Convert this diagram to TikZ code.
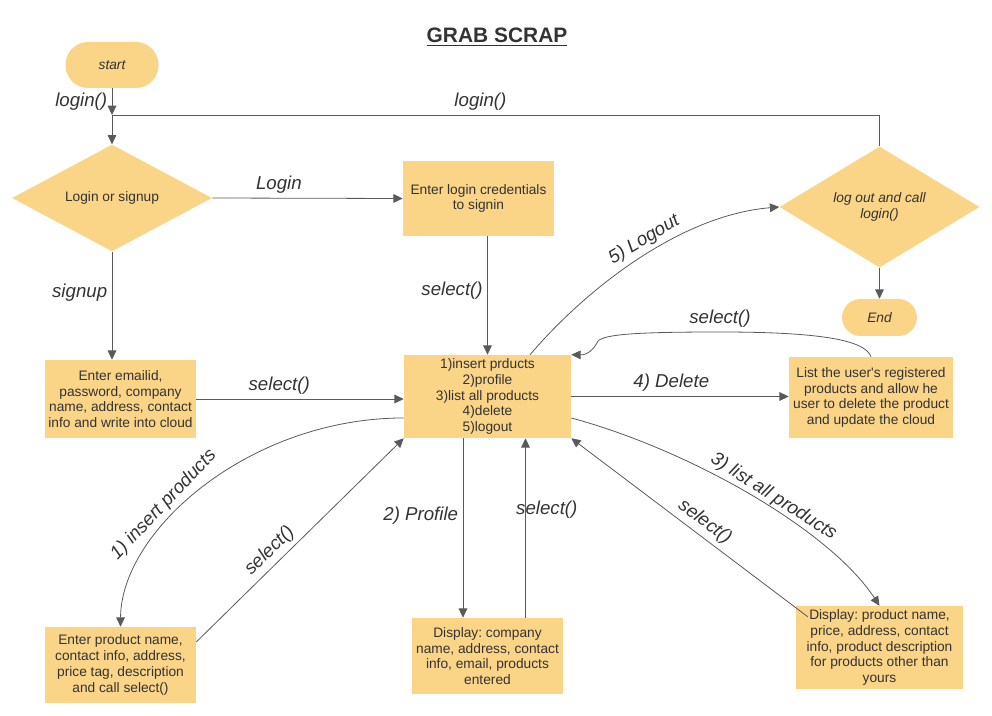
\documentclass[tikz,border=0pt]{standalone}
\usepackage{fontspec}
\setmainfont{Liberation Sans}
\usepackage{tikz}
\usetikzlibrary{shapes.geometric, arrows.meta, positioning}
\usepackage{xcolor}
\definecolor{scrapFill}{RGB}{250,212,135}
\definecolor{inkGray}{RGB}{51,51,51}
\definecolor{wireGray}{RGB}{90,90,90}
\frenchspacing

\begin{document}
\begin{tikzpicture}[
  x=0.75pt, y=0.75pt,
  box/.style={
    rectangle, fill=scrapFill, text=inkGray, align=center,
    inner sep=1pt, font=\fontsize{10.3}{11.8}\selectfont
  },
  pill/.style={box, rounded corners=#1,
    font=\fontsize{10.3}{11.8}\selectfont\itshape},
  choice/.style={
    diamond, fill=scrapFill, text=inkGray, align=center,
    minimum width=150pt, minimum height=75pt, inner sep=0pt,
    font=\fontsize{10.3}{11.8}\selectfont
  },
  arr/.style={-{Triangle[length=7pt,width=6.5pt]}, line width=0.6pt, wireGray},
  lbl/.style={font=\fontsize{14}{16}\selectfont\itshape, text=inkGray}
]
  \useasboundingbox (0,0) rectangle (992,715);

  \node[font=\fontsize{15.7}{18}\selectfont\bfseries, text=inkGray] (title)
    at (497,678) {\underline{GRAB SCRAP}};

  \node[pill=17pt, minimum width=69.75pt, minimum height=34.5pt] (start)
    at (112,650) {start};
  \node[choice] (dia1) at (112,517) {Login or signup};
  \node[box, minimum width=113.25pt, minimum height=56.25pt] (cred)
    at (478.5,516.5) {Enter login credentials\\to signin};
  \node[box, minimum width=113.25pt, minimum height=58.5pt] (sgn)
    at (120.5,316) {Enter emailid,\\password, company\\name, address, contact\\info and write into cloud};
  \node[box, minimum width=125.25pt, minimum height=62.25pt] (menu)
    at (487.5,318.5) {1)insert prducts\\2)profile\\3)list all products\\4)delete\\5)logout};
  \node[box, minimum width=123pt, minimum height=60.75pt] (del)
    at (871,317.5) {List the user\textquotesingle s registered\\products and allow he\\user to delete the product\\and update the cloud};
  \node[choice, font=\fontsize{10.3}{11.8}\selectfont\itshape] (dia2)
    at (879.5,508) {log out and call\\login()};
  \node[pill=14pt, minimum width=56.25pt, minimum height=27.75pt,
    below=23.25pt of dia2] (stop) {End};
  \node[box, minimum width=113.25pt, minimum height=57pt] (prod)
    at (120.5,50) {Enter product name,\\contact info, address,\\price tag, description\\and call select()};
  \node[box, minimum width=113.25pt, minimum height=57pt] (prof)
    at (487.5,59) {Display: company\\name, address, contact\\info, email, products\\entered};
  \node[box, minimum width=125.25pt, minimum height=62.25pt] (disp)
    at (879.5,67.5) {Display: product name,\\price, address, contact\\info, product description\\for products other than\\yours};

  % login loop back to the first choice
  \coordinate (j) at (112,600);
  \draw[arr] (start) -- (j) node[lbl, left, midway] {login()};
  \draw[arr] (dia2.north) |- (j) node[lbl, above, pos=0.76] {login()}
    -- (dia1.north);
  \draw[arr] (dia2) -- (stop);

  \draw[arr] (dia1.east) -- (cred.west) node[lbl, above, pos=0.35] {Login};
  \draw[arr] (dia1.south) -- (dia1.south |- sgn.north)
    node[lbl, left, pos=0.38] {signup};
  \draw[arr] (sgn.east) -- (sgn.east -| menu.west)
    node[lbl, above, pos=0.4] {select()};
  \draw[arr] (menu.north |- cred.south) -- (menu.north)
    node[lbl, left, pos=0.46] {select()};
  \draw[arr] (menu.east) -- (menu.east -| del.west)
    node[lbl, above, pos=0.46] {4) Delete};
  \draw[arr] (del.north) .. controls (865,375) and (820,383) .. (720,383)
    node[lbl, above] {select()}
    .. controls (640,383) and (605,381) .. (598,374)
    .. controls (594,366) and (588,360) .. (menu.north east);
  \draw[arr] ([xshift=31.9pt]menu.north) .. controls (585,425) and (680,500) .. (dia2.west)
    node[lbl, sloped, above, pos=0.55] {5) Logout};

  % menu branches
  \draw[arr] ([yshift=-16.1pt]menu.west) .. controls (250,297) and (121,185) .. (prod.north)
    node[lbl, sloped, above, pos=0.61] {1) insert products};
  \draw[arr] ([yshift=17.25pt]prod.east) -- (menu.south west)
    node[lbl, sloped, above, pos=0.4] {select()};
  \coordinate (pd) at ([xshift=-18.4pt]menu.south);
  \coordinate (pu) at ([xshift=28.5pt]prof.north);
  \draw[arr] (pd) -- (pd |- prof.north) node[lbl, left, pos=0.43] {2) Profile};
  \draw[arr] (pu) -- (pu |- menu.south) node[lbl, pos=0.6, xshift=16pt] {select()};
  \draw[arr] ([yshift=-16.1pt]menu.east) .. controls (690,265) and (830,185) .. (disp.north)
    node[lbl, sloped, above, inner sep=1pt, pos=0.55] {3) list all products};
  \draw[arr] ([xshift=9pt,yshift=-8.25pt]disp.north west) -- (menu.south east)
    node[lbl, sloped, above, pos=0.47] {select()};
\end{tikzpicture}
\end{document}
